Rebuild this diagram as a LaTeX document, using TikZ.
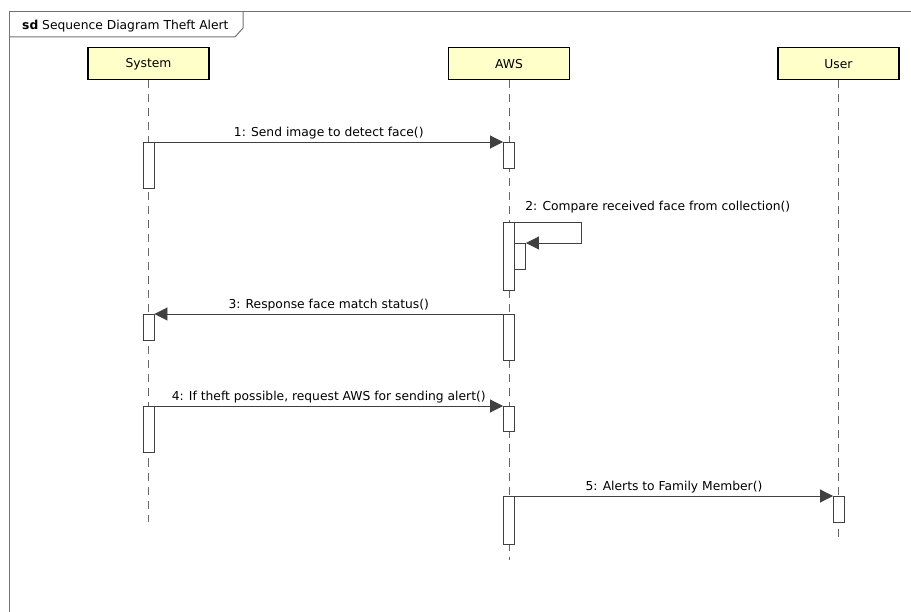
\documentclass[tikz,border=0pt]{standalone}
\usepackage{fontspec}
\setmainfont{DejaVu Sans}
\usepackage{tikz}
\usetikzlibrary{arrows.meta, positioning}

\definecolor{headfill}{HTML}{FFFFCA}

\begin{document}
\begin{tikzpicture}[x=1pt, y=-1pt,
  head/.style={draw=black, line width=1.5pt, fill=headfill, minimum width=121pt, minimum height=32pt, anchor=north, font=\fontsize{12.3}{14}\selectfont},
  act/.style={draw=black!75, line width=0.9pt, fill=white, minimum width=11pt, inner sep=0pt, anchor=north},
  life/.style={draw=black!60, line width=1pt, dash pattern=on 8pt off 6pt},
  msg/.style={draw=black!75, line width=0.9pt, -{Triangle[length=13pt, width=13pt]}},
  lbl/.style={font=\fontsize{12.3}{14}\selectfont, inner sep=2pt},
  frame/.style={draw=black!55, line width=1pt}
]
\useasboundingbox (0,0) rectangle (911,612);

% frame and title tab
\draw[frame] (9,612) -- (9,12) -- (911,12);
\draw[frame] (9,37) -- (235,37) -- (243,28) -- (243,12);
\node[lbl, anchor=base west] (title) at (20,30) {\textbf{sd} Sequence Diagram Theft Alert};

% lifeline heads
\node[head] (sys) at (148.5,47) {System};
\node[head] (aws) at (509,47) {AWS};
\node[head] (usr) at (838.5,47) {User};

\coordinate (sysEnd) at (148.5,522);
\coordinate (awsEnd) at (509,560);
\coordinate (usrEnd) at (838.5,538);

\draw[life] (sys) -- (sysEnd);
\draw[life] (aws) -- (awsEnd);
\draw[life] (usr) -- (usrEnd);

% activations
\node[act, minimum height=46pt] (sysA1) at (148.5,142) {};
\node[act, minimum height=26pt] (sysA3) at (148.5,314) {};
\node[act, minimum height=46pt] (sysA4) at (148.5,406) {};

\node[act, minimum height=26pt] (awsA1) at (509,142) {};
\node[act, minimum height=68pt] (awsA2) at (509,222) {};
\node[act, minimum height=26pt] (awsA2b) at (520,243) {};
\node[act, minimum height=46pt] (awsA3) at (509,314) {};
\node[act, minimum height=25pt] (awsA4) at (509,406) {};
\node[act, minimum height=48pt] (awsA5) at (509,496) {};

\node[act, minimum height=26pt] (usrA5) at (839,496) {};

% messages
\draw[msg] (sysA1.north east) -- node[lbl, above] {1: Send image to detect face()} (awsA1.north west);
\draw[msg] (awsA2.north east) -- node[lbl, pos=0, anchor=base west, xshift=8pt, yshift=11pt] {2: Compare received face from collection()} ++(66,0) |- (awsA2b.north east);
\draw[msg] (awsA3.north west) -- node[lbl, above] {3: Response face match status()} (sysA3.north east);
\draw[msg] (sysA4.north east) -- node[lbl, above] {4: If theft possible, request AWS for sending alert()} (awsA4.north west);
\draw[msg] (awsA5.north east) -- node[lbl, above] {5: Alerts to Family Member()} (usrA5.north west);

\end{tikzpicture}
\end{document}
